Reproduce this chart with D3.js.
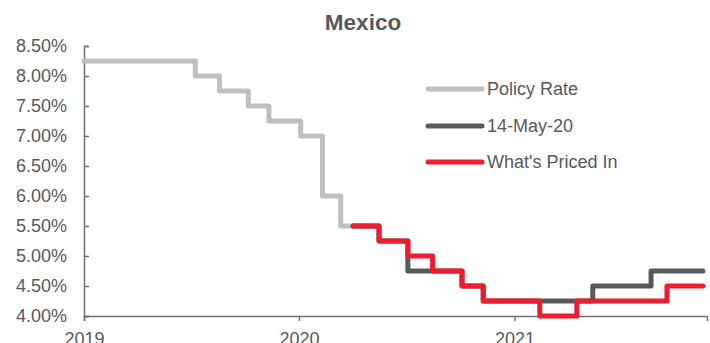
<!DOCTYPE html>
<html>
<head>
<meta charset="utf-8">
<script src="https://cdn.jsdelivr.net/npm/d3@7"></script>
<style>
  html, body { margin: 0; padding: 0; background: #fff; }
  svg { display: block; font-family: "Liberation Sans", Arial, sans-serif; }
</style>
</head>
<body>
<svg id="chart" width="710" height="343"></svg>
<script>
// ---- Data ----
const title = "Mexico";
const seriesNames = ["Policy Rate", "14-May-20", "What's Priced In"];
const seriesColors = ["#BFBFBF", "#595959", "#ED1C2E"];

const policyDates = ["2019-01-01","2019-07-09","2019-08-19","2019-10-07","2019-11-11","2020-01-04","2020-02-10","2020-03-12","2020-04-02"];
const policyRates = [8.25, 8.00, 7.75, 7.50, 7.25, 7.00, 6.00, 5.50, 5.50];

const may14Dates = ["2020-04-02","2020-05-16","2020-07-04","2020-10-04","2020-11-09","2021-05-14","2021-08-21","2021-11-17"];
const may14Rates = [5.50, 5.25, 4.75, 4.50, 4.25, 4.50, 4.75, 4.75];

const pricedDates = ["2020-04-02","2020-05-16","2020-07-04","2020-08-15","2020-10-04","2020-11-09","2021-02-13","2021-04-17","2021-09-17","2021-11-17"];
const pricedRates = [5.50, 5.25, 5.00, 4.75, 4.50, 4.25, 4.00, 4.25, 4.50, 4.50];

const yTicks = [4.0, 4.5, 5.0, 5.5, 6.0, 6.5, 7.0, 7.5, 8.0, 8.5];
const xTickLabels = ["2019", "2020", "2021"];

// ---- Layout ----
(function () {
const svg = d3.select("#chart");
const parse = d3.utcParse("%Y-%m-%d");
const mLeft = 84, mRight = 707, mTop = 46, mBottom = 316;
const textColor = "#595959";
const fs = 18;

const x = d3.scaleUtc()
  .domain([parse("2019-01-01"), parse("2021-11-24")])
  .range([mLeft, mRight]);
const y = d3.scaleLinear().domain([4.0, 8.5]).range([mBottom, mTop]);

// Title
svg.append("text")
  .attr("x", 363).attr("y", 30)
  .attr("text-anchor", "middle")
  .attr("font-size", 22.5).attr("font-weight", "bold")
  .attr("fill", textColor)
  .text(title);

// Y axis
const yAxis = d3.axisLeft(y)
  .tickValues(yTicks)
  .tickSize(-5)
  .tickPadding(17)
  .tickFormat(d => d.toFixed(2) + "%");
const gy = svg.append("g").attr("transform", `translate(${mLeft},0)`).call(yAxis);
gy.select(".domain").attr("stroke", "#707070").attr("stroke-width", 1.5);
gy.selectAll(".tick line").attr("stroke", "#707070").attr("stroke-width", 1.5);
gy.selectAll(".tick text").attr("font-size", fs).attr("fill", textColor)
  .attr("font-family", "Liberation Sans, Arial, sans-serif");

// X axis
const xAxis = d3.axisBottom(x)
  .tickValues(xTickLabels.map(s => parse(s + "-01-01")))
  .tickSize(5)
  .tickPadding(11)
  .tickFormat((d, i) => xTickLabels[i]);
const gx = svg.append("g").attr("transform", `translate(0,${mBottom})`).call(xAxis);
gx.select(".domain").attr("stroke", "#707070").attr("stroke-width", 1.5);
gx.selectAll(".tick line").attr("stroke", "#707070").attr("stroke-width", 1.5);
gx.selectAll(".tick text").attr("font-size", fs).attr("fill", textColor)
  .attr("font-family", "Liberation Sans, Arial, sans-serif");

// Lines
const line = d3.line()
  .x(d => x(d.date))
  .y(d => y(d.value))
  .curve(d3.curveStepAfter);

const series = [
  { dates: policyDates, values: policyRates },
  { dates: may14Dates, values: may14Rates },
  { dates: pricedDates, values: pricedRates }
];

series.forEach((s, i) => {
  const data = s.dates.map((d, j) => ({ date: parse(d), value: s.values[j] }));
  svg.append("path")
    .datum(data)
    .attr("d", line)
    .attr("fill", "none")
    .attr("stroke", seriesColors[i])
    .attr("stroke-width", 5)
    .attr("stroke-linejoin", "round")
    .attr("stroke-linecap", "round");
});

// Legend
const legendY = [89, 126, 162];
seriesNames.forEach((name, i) => {
  const g = svg.append("g");
  g.append("line")
    .attr("x1", 428).attr("x2", 482)
    .attr("y1", legendY[i]).attr("y2", legendY[i])
    .attr("stroke", seriesColors[i])
    .attr("stroke-width", 5)
    .attr("stroke-linecap", "round");
  g.append("text")
    .attr("x", 487).attr("y", legendY[i])
    .attr("dy", "0.35em")
    .attr("font-size", fs)
    .attr("fill", textColor)
    .text(name);
});
})();
</script>
</body>
</html>
